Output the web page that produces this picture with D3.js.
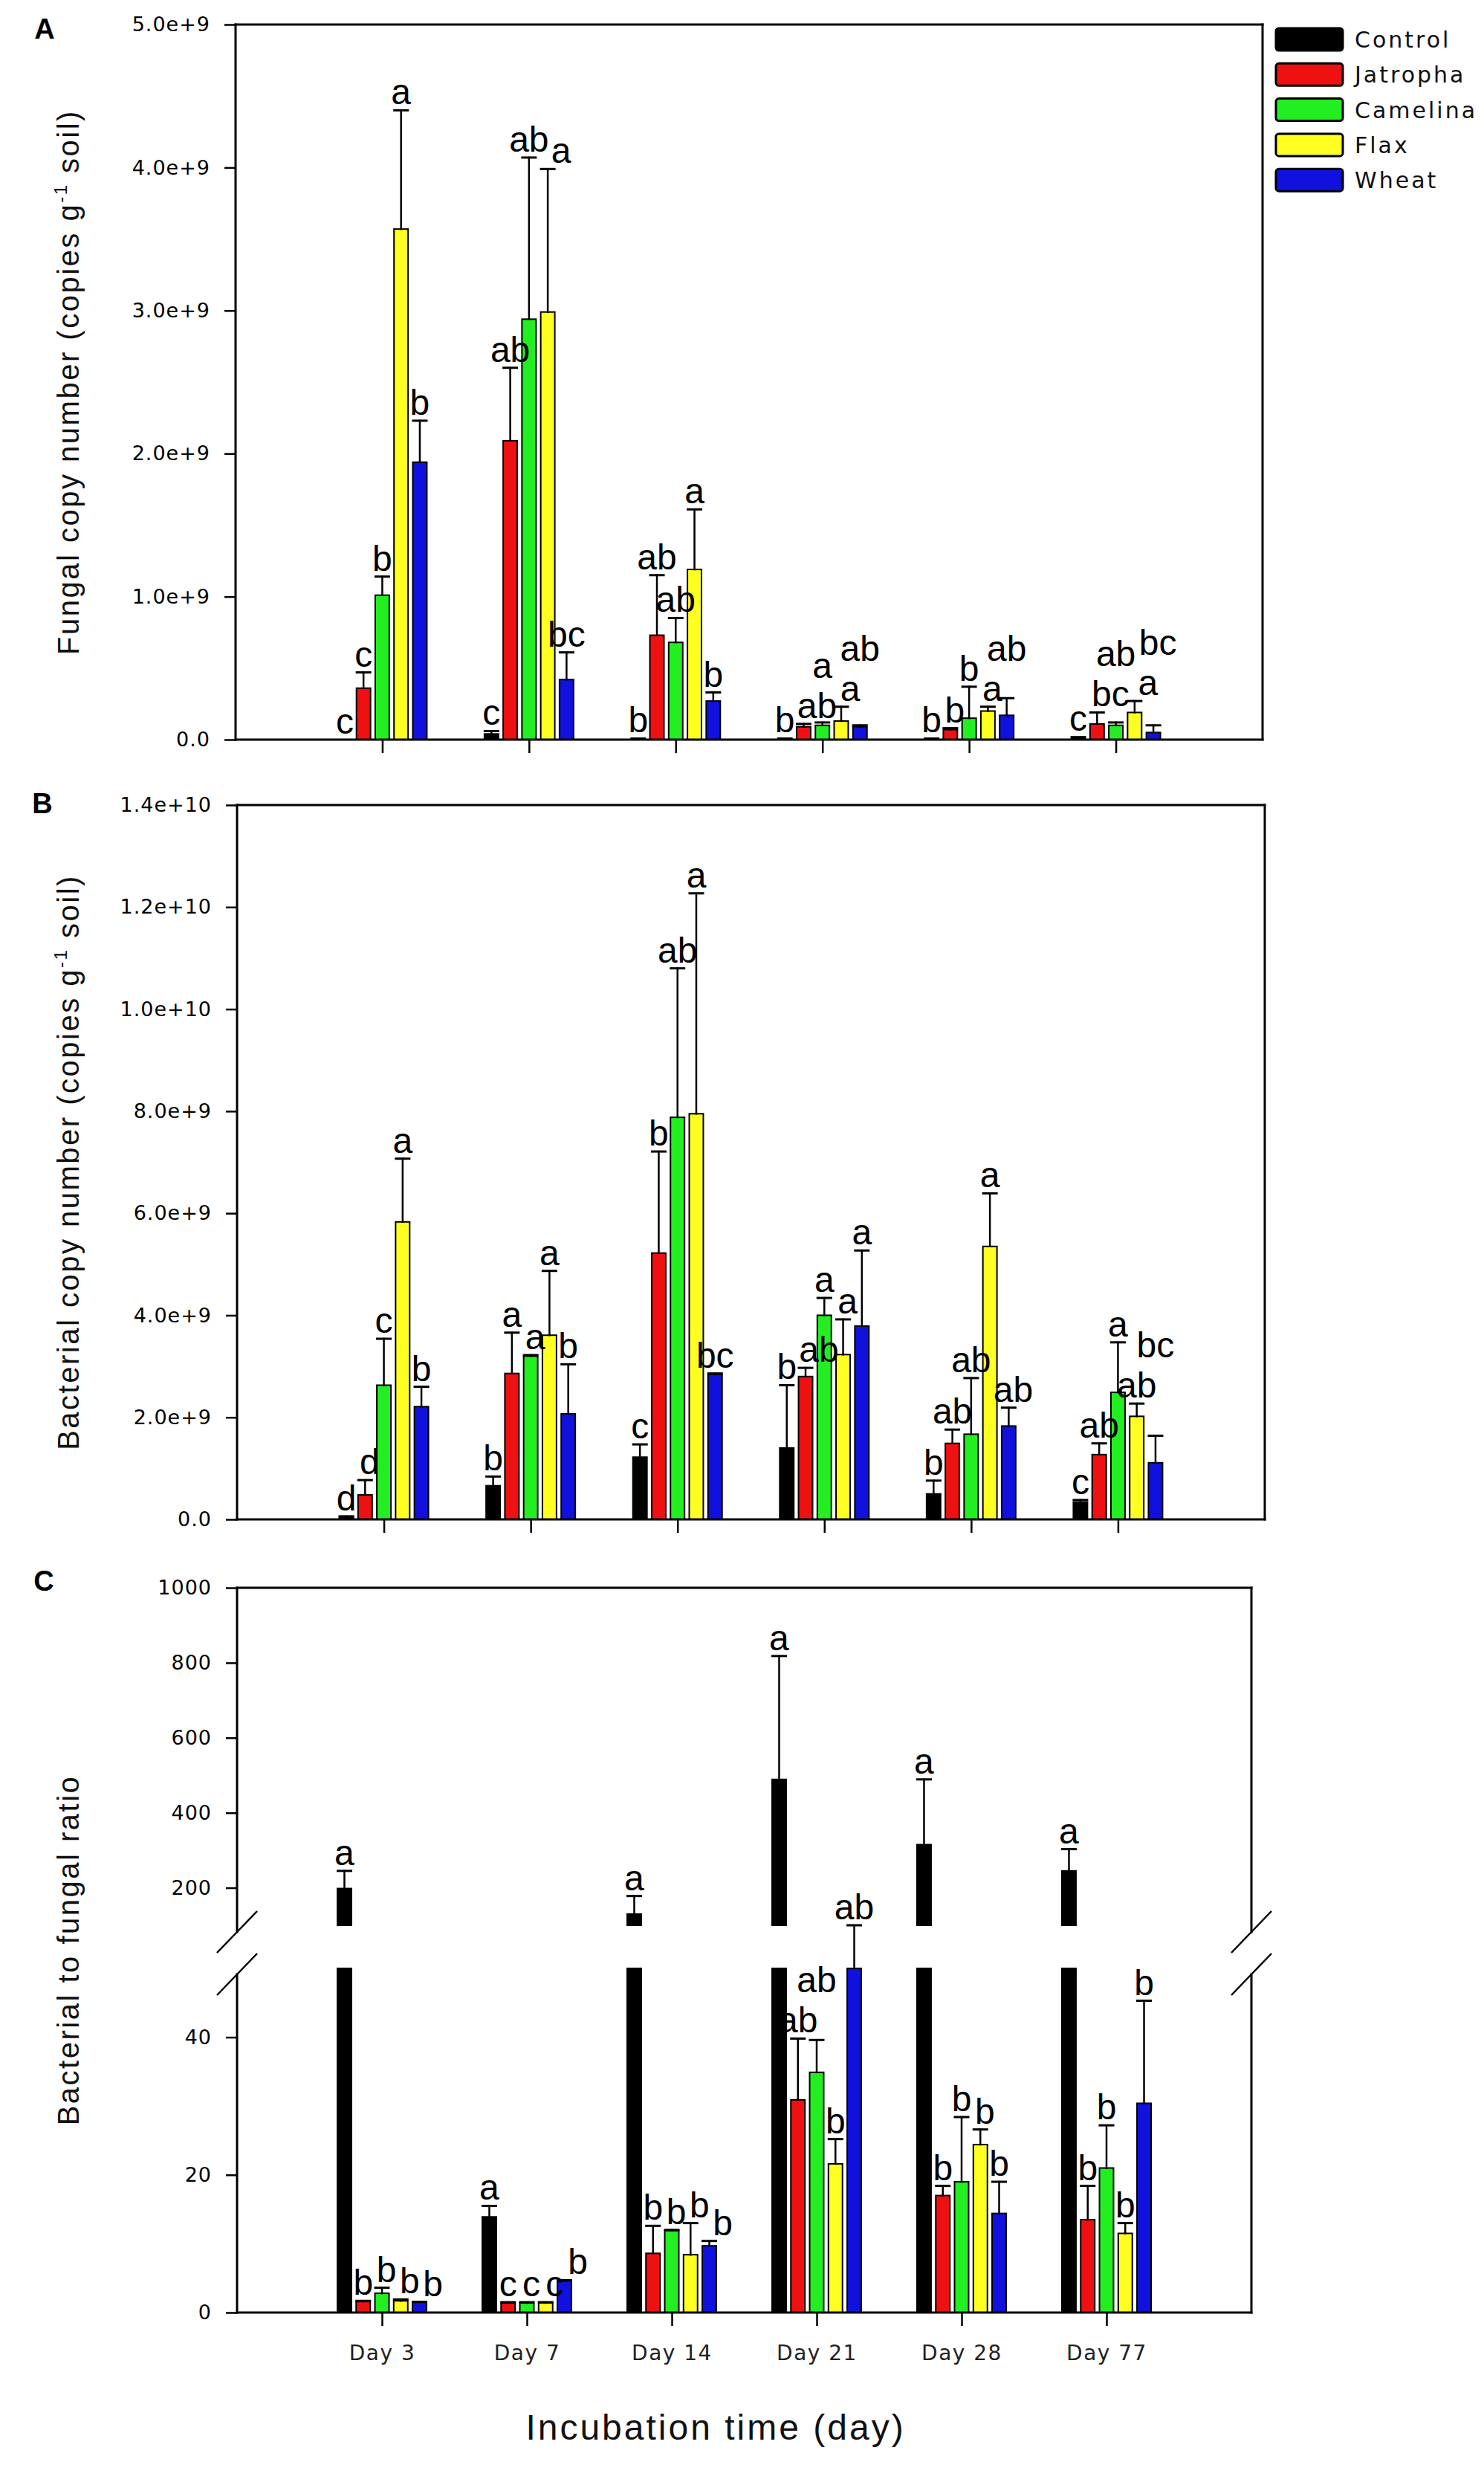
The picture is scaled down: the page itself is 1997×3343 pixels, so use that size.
<!DOCTYPE html>
<html>
<head>
<meta charset="utf-8">
<script src="https://cdn.jsdelivr.net/npm/d3@7"></script>
<style>
  body { margin: 0; background: #ffffff; }
  svg { display: block; }
</style>
</head>
<body>
<svg id="chart" width="1997" height="3343"></svg>
<script>
// ---------------- DATA ----------------
const days = ["Day 3", "Day 7", "Day 14", "Day 21", "Day 28", "Day 77"];
const treatments = ["Control", "Jatropha", "Camelina", "Flax", "Wheat"];
const treatmentColors = ["#000000", "#ee1111", "#22ee22", "#ffff22", "#1111dd"];

// Panel A: fungal copy number (copies per g soil), rows = treatments, cols = days
const fungalMean = [
  [0, 0.04e9, 0.01e9, 0.01e9, 0.01e9, 0.02e9],
  [0.36e9, 2.09e9, 0.73e9, 0.09e9, 0.07e9, 0.11e9],
  [1.01e9, 2.94e9, 0.68e9, 0.10e9, 0.15e9, 0.10e9],
  [3.57e9, 2.99e9, 1.19e9, 0.13e9, 0.20e9, 0.19e9],
  [1.94e9, 0.42e9, 0.27e9, 0.09e9, 0.17e9, 0.05e9]
];
const fungalErr = [
  [0, 0.02e9, 0, 0, 0, 0],
  [0.11e9, 0.51e9, 0.42e9, 0.02e9, 0.01e9, 0.08e9],
  [0.13e9, 1.13e9, 0.17e9, 0.02e9, 0.22e9, 0.02e9],
  [0.83e9, 1.00e9, 0.42e9, 0.10e9, 0.03e9, 0.08e9],
  [0.29e9, 0.19e9, 0.06e9, 0.01e9, 0.12e9, 0.05e9]
];
const fungalLetters = [
  ["c", "c", "b", "b", "b", "c"],
  ["c", "ab", "ab", "ab", "b", "bc"],
  ["b", "ab", "ab", "a", "b", "ab"],
  ["a", "a", "a", "a", "a", "a"],
  ["b", "bc", "b", "ab", "ab", "bc"]
];
const fungalTicks = [0, 1e9, 2e9, 3e9, 4e9, 5e9];
const fungalTickLabels = ["0.0", "1.0e+9", "2.0e+9", "3.0e+9", "4.0e+9", "5.0e+9"];

// Panel B: bacterial copy number
const bacterialMean = [
  [0.05e9, 0.66e9, 1.22e9, 1.40e9, 0.50e9, 0.34e9],
  [0.48e9, 2.86e9, 5.22e9, 2.80e9, 1.49e9, 1.27e9],
  [2.63e9, 3.20e9, 7.88e9, 4.00e9, 1.67e9, 2.49e9],
  [5.83e9, 3.61e9, 7.95e9, 3.23e9, 5.35e9, 2.02e9],
  [2.21e9, 2.07e9, 2.84e9, 3.79e9, 1.83e9, 1.11e9]
];
const bacterialErr = [
  [0.01e9, 0.18e9, 0.25e9, 1.23e9, 0.26e9, 0.04e9],
  [0.29e9, 0.80e9, 1.99e9, 0.17e9, 0.27e9, 0.22e9],
  [0.91e9, 0.02e9, 2.92e9, 0.34e9, 1.10e9, 0.98e9],
  [1.24e9, 1.26e9, 4.32e9, 0.69e9, 1.04e9, 0.25e9],
  [0.39e9, 0.97e9, 0.02e9, 1.48e9, 0.36e9, 0.53e9]
];
const bacterialLetters = [
  ["d", "b", "c", "b", "b", "c"],
  ["d", "a", "b", "ab", "ab", "ab"],
  ["c", "a", "ab", "a", "ab", "a"],
  ["a", "a", "a", "a", "a", "ab"],
  ["b", "b", "bc", "a", "ab", "bc"]
];
const bacterialTicks = [0, 2e9, 4e9, 6e9, 8e9, 10e9, 12e9, 14e9];
const bacterialTickLabels = ["0.0", "2.0e+9", "4.0e+9", "6.0e+9", "8.0e+9", "1.0e+10", "1.2e+10", "1.4e+10"];

// Panel C: bacterial to fungal ratio (broken axis 0-50 / 100-1000)
const ratioMean = [
  [198, 13.9, 130, 489, 315, 245],
  [1.6, 1.4, 8.6, 30.9, 17.0, 13.5],
  [2.8, 1.4, 11.9, 34.9, 19.0, 21.0],
  [1.7, 1.4, 8.4, 21.6, 24.4, 11.5],
  [1.5, 4.6, 9.7, 52, 14.4, 30.4]
];
const ratioErr = [
  [47, 1.6, 48, 329, 174, 58],
  [0.1, 0.1, 4.0, 8.9, 1.4, 4.9],
  [0.8, 0.1, 0.1, 4.7, 9.4, 6.2],
  [0.2, 0.1, 4.6, 3.6, 2.2, 1.5],
  [0.05, 0.1, 0.7, 48, 4.6, 14.9]
];
const ratioLetters = [
  ["a", "a", "a", "a", "a", "a"],
  ["b", "c", "b", "ab", "b", "b"],
  ["b", "c", "b", "ab", "b", "b"],
  ["b", "c", "b", "b", "b", "b"],
  ["b", "b", "b", "ab", "b", "b"]
];
const ratioLowerTicks = [0, 20, 40];
const ratioLowerTickLabels = ["0", "20", "40"];
const ratioUpperTicks = [200, 400, 600, 800, 1000];
const ratioUpperTickLabels = ["200", "400", "600", "800", "1000"];

// ---------------- DRAWING ----------------
const svg = d3.select("#chart");
const SIG_FS = 48;
const TICK_FONT = "'DejaVu Sans', sans-serif";
const TEXT_FONT = "'Liberation Sans', Arial, Helvetica, sans-serif";

function makeX(L, R) {
  return d3.scalePoint().domain(days).range([L, R]).padding(1);
}
const offset = d3.scaleBand().domain(treatments).range([-60, 60]).paddingInner(0.25);

function line(g, x1, y1, x2, y2, w) {
  g.append("line").attr("x1", x1).attr("y1", y1).attr("x2", x2).attr("y2", y2)
    .attr("stroke", "#000").attr("stroke-width", w || 3).attr("stroke-linecap", "square");
}

function styleAxis(ax) {
  ax.select(".domain").remove();
  ax.selectAll(".tick line").attr("stroke", "#000").attr("stroke-width", 2.5);
  ax.selectAll(".tick text").attr("fill", "#000");
}

function yTitle(text, cx, cy, sup) {
  const t = svg.append("text")
    .attr("transform", `translate(${cx},${cy}) rotate(-90)`)
    .attr("text-anchor", "middle").attr("dy", "0.35em")
    .attr("font-family", TEXT_FONT).attr("font-size", 40)
    .attr("letter-spacing", 2.5).attr("fill", "#111");
  if (sup) {
    t.append("tspan").text(text[0]);
    t.append("tspan").text("-1").attr("font-size", 24).attr("dy", -16);
    t.append("tspan").text(text[1]).attr("dy", 16);
  } else {
    t.text(text);
  }
}

function panelLetter(txt, x, y) {
  svg.append("text").attr("x", x).attr("y", y).attr("text-anchor", "middle")
    .attr("font-family", TEXT_FONT).attr("font-weight", "bold").attr("font-size", 38)
    .attr("fill", "#000").text(txt);
}

// greedy placement of significance letters: try small sideways nudges, else lift
function placeLabels(g, items) {
  const placed = [];
  const hits = b => placed.filter(p => b.x1 < p.x2 && b.x2 > p.x1 && b.y1 < p.y2 && b.y2 > p.y1);
  items.forEach(it => {
    const t = g.append("text").attr("text-anchor", "middle")
      .attr("font-family", TEXT_FONT).attr("font-size", SIG_FS).attr("fill", "#000")
      .text(it.text);
    const boxAt = (x, base) => {
      t.attr("x", x).attr("y", base);
      const bb = t.node().getBBox();
      return { x1: bb.x - 1, x2: bb.x + bb.width + 1, y1: bb.y, y2: bb.y + bb.height };
    };
    let base = it.yTop - 8;
    let xx = it.x;
    for (let guard = 0; guard < 14; guard++) {
      let ok = false;
      for (const dx of [0, 6, -6, 12, -12, 18, -18]) {
        if (hits(boxAt(it.x + dx, base)).length === 0) { xx = it.x + dx; ok = true; break; }
      }
      if (ok) break;
      const b0 = boxAt(it.x, base);
      const hs = hits(b0);
      const need = Math.min(...hs.map(p => p.y1));
      base -= (b0.y2 - need) + 1;
    }
    const fin = boxAt(xx, base);
    placed.push(fin);
  });
}

function drawBars(g, x, mean, err, letters, yFn, barRects) {
  days.forEach((d, di) => {
    const items = [];
    treatments.forEach((tr, ti) => {
      const v = mean[ti][di], e = err[ti][di];
      const cx = x(d) + offset(tr) + offset.bandwidth() / 2;
      const x0 = x(d) + offset(tr);
      barRects(v).forEach(r => {
        if (r[1] - r[0] > 0.3) {
          g.append("rect").attr("x", x0).attr("width", offset.bandwidth())
            .attr("y", r[0]).attr("height", r[1] - r[0])
            .attr("fill", treatmentColors[ti]).attr("stroke", "#000").attr("stroke-width", 2);
        }
      });
      const yv = yFn(v), ye = yFn(v + e);
      if (e > 0) {
        line(g, cx, yv, cx, ye, 2.5);
        line(g, cx - 9, ye, cx + 9, ye, 3);
      }
      items.push({ x: cx, yTop: e > 0 ? ye : yv, text: letters[ti][di] });
    });
    placeLabels(g, items);
  });
}

// ---------- Panel A ----------
(function () {
  const L = 317, R = 1699, T = 33, B = 995;
  const x = makeX(L, R);
  const y = d3.scaleLinear().domain([0, 5e9]).range([B, T]);
  const g = svg.append("g");
  drawBars(g, x, fungalMean, fungalErr, fungalLetters, y, v => [[y(v), y(0)]]);
  const ay = g.append("g").attr("transform", `translate(${L},0)`)
    .call(d3.axisLeft(y).tickValues(fungalTicks).tickSize(15).tickPadding(19)
      .tickFormat((d, i) => fungalTickLabels[i]));
  styleAxis(ay);
  ay.selectAll(".tick text").attr("font-family", TICK_FONT).attr("font-size", 27).attr("letter-spacing", 1);
  const ax = g.append("g").attr("transform", `translate(0,${B})`)
    .call(d3.axisBottom(x).tickSize(18).tickFormat(""));
  styleAxis(ax);
  line(g, L, T, R, T); line(g, R, T, R, B); line(g, L, T, L, B); line(g, L, B, R, B);
  panelLetter("A", 60, 52);
  yTitle(["Fungal copy number (copies g", " soil)"], 92, (T + B) / 2, true);

  // legend
  const lg = svg.append("g");
  treatments.forEach((tr, i) => {
    const cy = 53 + i * 47.3;
    lg.append("rect").attr("x", 1717).attr("y", cy - 15).attr("width", 90).attr("height", 30)
      .attr("rx", 4).attr("fill", treatmentColors[i]).attr("stroke", "#000").attr("stroke-width", 3);
    lg.append("text").attr("x", 1823).attr("y", cy + 11).attr("font-family", TICK_FONT)
      .attr("font-size", 30).attr("letter-spacing", 3).attr("fill", "#111").text(tr);
  });
})();

// ---------- Panel B ----------
(function () {
  const L = 319, R = 1702, T = 1083, B = 2044;
  const x = makeX(L, R);
  const y = d3.scaleLinear().domain([0, 1.4e10]).range([B, T]);
  const g = svg.append("g");
  drawBars(g, x, bacterialMean, bacterialErr, bacterialLetters, y, v => [[y(v), y(0)]]);
  const ay = g.append("g").attr("transform", `translate(${L},0)`)
    .call(d3.axisLeft(y).tickValues(bacterialTicks).tickSize(15).tickPadding(19)
      .tickFormat((d, i) => bacterialTickLabels[i]));
  styleAxis(ay);
  ay.selectAll(".tick text").attr("font-family", TICK_FONT).attr("font-size", 27).attr("letter-spacing", 1);
  const ax = g.append("g").attr("transform", `translate(0,${B})`)
    .call(d3.axisBottom(x).tickSize(18).tickFormat(""));
  styleAxis(ax);
  line(g, L, T, R, T); line(g, R, T, R, B); line(g, L, T, L, B); line(g, L, B, R, B);
  panelLetter("B", 57, 1094);
  yTitle(["Bacterial copy number (copies g", " soil)"], 92, (T + B) / 2, true);
})();

// ---------- Panel C ----------
(function () {
  const L = 319, R = 1684, T = 2136, B = 3111;
  const x = makeX(L, R);
  const yLow = d3.scaleLinear().domain([0, 50]).range([B, 2648]);
  const yUp = d3.scaleLinear().domain([100, 1000]).range([2590, T]);
  const gap = d3.scaleLinear().domain([50, 100]).range([yLow(50), yUp(100)]);
  const y = v => v <= 50 ? yLow(v) : (v >= 100 ? yUp(v) : gap(v));
  const g = svg.append("g");
  drawBars(g, x, ratioMean, ratioErr, ratioLetters, y, v => {
    const rects = [[yLow(Math.min(v, 50)), yLow(0)]];
    if (v > 100) rects.push([yUp(v), yUp(100)]);
    return rects;
  });
  const ayL = g.append("g").attr("transform", `translate(${L},0)`)
    .call(d3.axisLeft(yLow).tickValues(ratioLowerTicks).tickSize(15).tickPadding(19)
      .tickFormat((d, i) => ratioLowerTickLabels[i]));
  const ayU = g.append("g").attr("transform", `translate(${L},0)`)
    .call(d3.axisLeft(yUp).tickValues(ratioUpperTicks).tickSize(15).tickPadding(19)
      .tickFormat((d, i) => ratioUpperTickLabels[i]));
  [ayL, ayU].forEach(a => {
    styleAxis(a);
    a.selectAll(".tick text").attr("font-family", TICK_FONT).attr("font-size", 27).attr("letter-spacing", 1);
  });
  const ax = g.append("g").attr("transform", `translate(0,${B})`)
    .call(d3.axisBottom(x).tickSize(18).tickPadding(26));
  styleAxis(ax);
  ax.selectAll(".tick text").attr("font-family", TICK_FONT).attr("font-size", 28)
    .attr("letter-spacing", 1.5).attr("fill", "#222");

  const brkU = yUp(100) + 9, brkL = yLow(50) + 8;
  line(g, L, T, R, T);
  line(g, L, B, R, B);
  [L, R].forEach(xx => {
    line(g, xx, T, xx, brkU);
    line(g, xx, brkL, xx, B);
    g.append("line").attr("x1", xx - 27).attr("y1", brkU + 28).attr("x2", xx + 27).attr("y2", brkU - 28)
      .attr("stroke", "#000").attr("stroke-width", 2.5);
    g.append("line").attr("x1", xx - 27).attr("y1", brkL + 28).attr("x2", xx + 27).attr("y2", brkL - 28)
      .attr("stroke", "#000").attr("stroke-width", 2.5);
  });
  panelLetter("C", 59, 2140);
  yTitle("Bacterial to fungal ratio", 92, (T + B) / 2, false);

  svg.append("text").attr("x", 963).attr("y", 3282).attr("text-anchor", "middle")
    .attr("font-family", TEXT_FONT).attr("font-size", 48).attr("letter-spacing", 3)
    .attr("fill", "#111").text("Incubation time (day)");
})();
</script>
</body>
</html>
